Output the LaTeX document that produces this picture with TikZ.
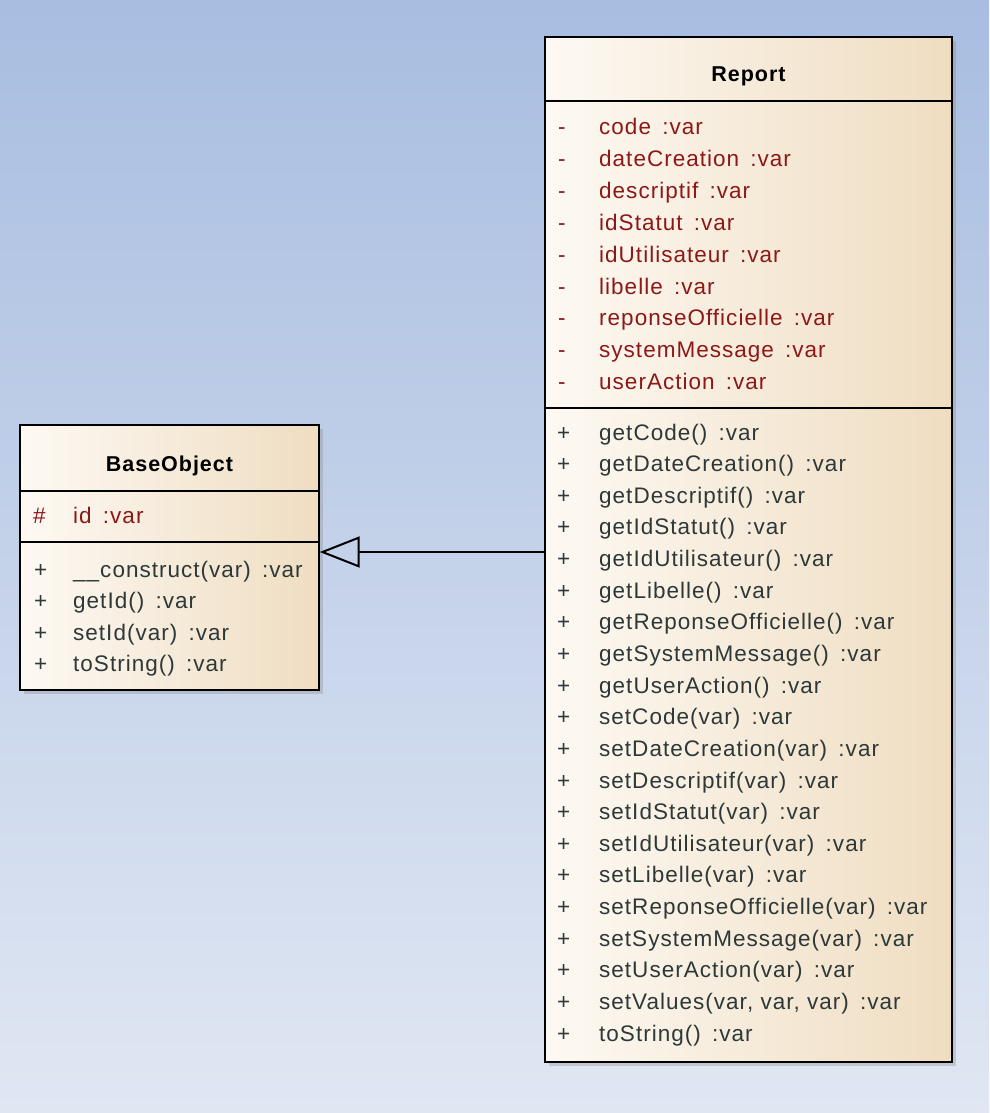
\documentclass[tikz,border=0pt]{standalone}
\usepackage{fontspec}
\setmainfont{Liberation Sans}[LetterSpace=4.5]
\usetikzlibrary{positioning, arrows.meta, shadows}
\definecolor{bgtop}{RGB}{168,189,224}
\definecolor{bgbottom}{RGB}{224,231,243}
\definecolor{boxleft}{RGB}{253,249,243}
\definecolor{boxright}{RGB}{239,221,193}
\definecolor{attrred}{RGB}{140,24,24}
\definecolor{opgray}{RGB}{45,56,56}
\newcommand{\rowfont}{\fontsize{22.5}{26}\selectfont}

\begin{document}
\begin{tikzpicture}[x=1pt, y=-1pt,
    classbox/.style={draw, rectangle, line width=1.4pt, left color=boxleft, right color=boxright,
        drop shadow={opacity=0.3, shadow xshift=4pt, shadow yshift=-4pt}},
    classname/.style={anchor=base, inner sep=0pt, font=\bfseries\fontsize{21.5}{26}\selectfont},
    attr/.style={anchor=base west, inner sep=0pt, text=attrred, font=\rowfont},
    op/.style={anchor=base west, inner sep=0pt, text=opgray, font=\rowfont},
    sep/.style={line width=1.4pt},
    inherit/.style={line width=2pt, -{Triangle[open, length=40pt, width=31pt]}}]
    % background
    \fill[top color=bgtop, bottom color=bgbottom] (0,0) rectangle (989,1113);
    \useasboundingbox (0,0) rectangle (989,1113);

    % BaseObject
    \node[classbox, minimum width=299pt, minimum height=265pt] (baseobject) at (169.5,557.5) {};
    \node[classname] (basetitle) at (169.5,471.5) {BaseObject};
    \draw[sep] (baseobject.west |- 0,491) -- (baseobject.east |- 0,491);
    \draw[sep] (baseobject.west |- 0,542) -- (baseobject.east |- 0,542);
    \node[attr] (bid) at (33,523) {\makebox[40pt][l]{\#}id\enspace:var};
    \node[op] (bconstruct) at (34,577) {\makebox[39pt][l]{+}\_\_construct(var)\enspace:var};
    \node[op] (bgetid) at (34,608.5) {\makebox[39pt][l]{+}getId()\enspace:var};
    \node[op] (bsetid) at (34,640) {\makebox[39pt][l]{+}setId(var)\enspace:var};
    \node[op] (btostring) at (34,671.5) {\makebox[39pt][l]{+}toString()\enspace:var};

    % Report
    \node[classbox, minimum width=407pt, minimum height=1025pt] (report) at (748.5,549.5) {};
    \node[classname] (reporttitle) at (748.5,81.5) {Report};
    \draw[sep] (report.west |- 0,101) -- (report.east |- 0,101);
    \draw[sep] (report.west |- 0,408) -- (report.east |- 0,408);

    % Report attributes
    \node[attr] (rcode) at (558,135) {\makebox[41pt][l]{-}code\enspace:var};
    \node[attr] (rdatecreation) at (558,166.8) {\makebox[41pt][l]{-}dateCreation\enspace:var};
    \node[attr] (rdescriptif) at (558,198.6) {\makebox[41pt][l]{-}descriptif\enspace:var};
    \node[attr] (ridstatut) at (558,230.4) {\makebox[41pt][l]{-}idStatut\enspace:var};
    \node[attr] (ridutilisateur) at (558,262.2) {\makebox[41pt][l]{-}idUtilisateur\enspace:var};
    \node[attr] (rlibelle) at (558,294) {\makebox[41pt][l]{-}libelle\enspace:var};
    \node[attr] (rreponse) at (558,325.8) {\makebox[41pt][l]{-}reponseOfficielle\enspace:var};
    \node[attr] (rsystemmessage) at (558,357.6) {\makebox[41pt][l]{-}systemMessage\enspace:var};
    \node[attr] (ruseraction) at (558,389.4) {\makebox[41pt][l]{-}userAction\enspace:var};

    % Report operations
    \node[op] (rgetcode) at (557,440) {\makebox[42pt][l]{+}getCode()\enspace:var};
    \node[op] (rgetdate) at (557,471.6) {\makebox[42pt][l]{+}getDateCreation()\enspace:var};
    \node[op] (rgetdesc) at (557,503.3) {\makebox[42pt][l]{+}getDescriptif()\enspace:var};
    \node[op] (rgetstatut) at (557,534.9) {\makebox[42pt][l]{+}getIdStatut()\enspace:var};
    \node[op] (rgetuser) at (557,566.5) {\makebox[42pt][l]{+}getIdUtilisateur()\enspace:var};
    \node[op] (rgetlibelle) at (557,598.2) {\makebox[42pt][l]{+}getLibelle()\enspace:var};
    \node[op] (rgetreponse) at (557,629.8) {\makebox[42pt][l]{+}getReponseOfficielle()\enspace:var};
    \node[op] (rgetmessage) at (557,661.4) {\makebox[42pt][l]{+}getSystemMessage()\enspace:var};
    \node[op] (rgetaction) at (557,693.1) {\makebox[42pt][l]{+}getUserAction()\enspace:var};
    \node[op] (rsetcode) at (557,724.7) {\makebox[42pt][l]{+}setCode(var)\enspace:var};
    \node[op] (rsetdate) at (557,756.3) {\makebox[42pt][l]{+}setDateCreation(var)\enspace:var};
    \node[op] (rsetdesc) at (557,788) {\makebox[42pt][l]{+}setDescriptif(var)\enspace:var};
    \node[op] (rsetstatut) at (557,819.6) {\makebox[42pt][l]{+}setIdStatut(var)\enspace:var};
    \node[op] (rsetuser) at (557,851.2) {\makebox[42pt][l]{+}setIdUtilisateur(var)\enspace:var};
    \node[op] (rsetlibelle) at (557,882.9) {\makebox[42pt][l]{+}setLibelle(var)\enspace:var};
    \node[op] (rsetreponse) at (557,914.5) {\makebox[42pt][l]{+}setReponseOfficielle(var)\enspace:var};
    \node[op] (rsetmessage) at (557,946.1) {\makebox[42pt][l]{+}setSystemMessage(var)\enspace:var};
    \node[op] (rsetaction) at (557,977.8) {\makebox[42pt][l]{+}setUserAction(var)\enspace:var};
    \node[op] (rsetvalues) at (557,1009.4) {\makebox[42pt][l]{+}setValues(var, var, var)\enspace:var};
    \node[op] (rtostring) at (557,1041) {\makebox[42pt][l]{+}toString()\enspace:var};

    % Generalization
    \draw[inherit] ([yshift=-2.5pt]report.west) -- ([yshift=-2.5pt]baseobject.east |- report.west);
\end{tikzpicture}
\end{document}
